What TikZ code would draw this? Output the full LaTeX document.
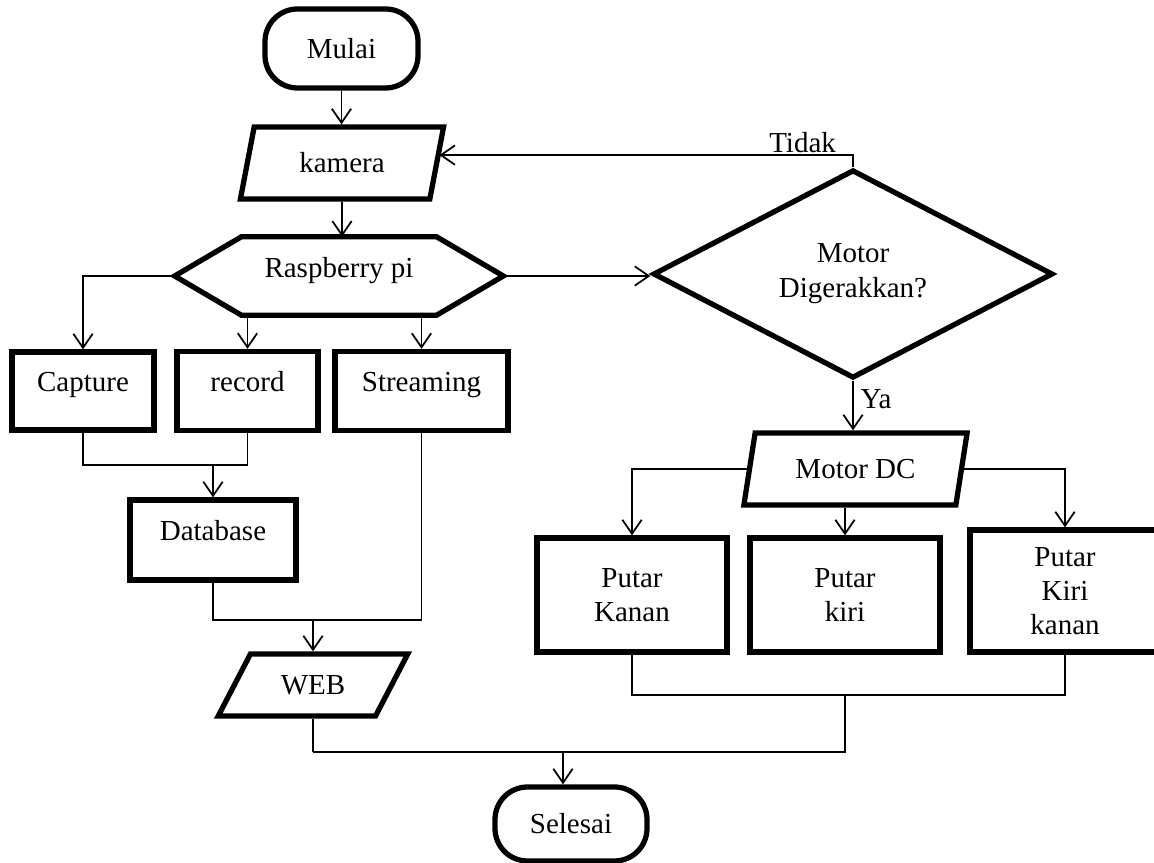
\documentclass[tikz,border=0pt]{standalone}
\usepackage{fontspec}
\setmainfont{Liberation Serif}
\usetikzlibrary{shapes.geometric,arrows.meta}

\begin{document}
\begin{tikzpicture}[
    font=\fontsize{16.5}{19.5}\selectfont,
    >={Straight Barb[length=8pt,width=11pt]},
    garis/.style={line width=1pt},
    terminal/.style={draw, line width=3pt, fill=white, rounded corners=0.65cm, minimum width=3.06cm, minimum height=1.58cm},
    proses/.style={draw, line width=3pt, fill=white, text height=11pt, text depth=10pt},
    putar/.style={draw, line width=3pt, fill=white, align=center, minimum width=3.8cm},
    data/.style={draw, trapezium, trapezium stretches=true, line width=3pt, fill=white}
  ]
  \useasboundingbox (0,0) rectangle (23.08,17.26);

  % kiri: alur kamera
  \node[terminal] (mulai) at (6.83,16.29) {Mulai};
  \node[data, trapezium left angle=76.7, trapezium right angle=103.3,
        minimum width=4.08cm, minimum height=1.44cm] (kamera) at (6.84,14.00) {kamera};
  \node[minimum width=6.56cm, minimum height=1.56cm, text height=11pt, text depth=9pt] (rpi) at (6.78,11.74) {Raspberry pi};
  \draw[line width=3pt] (rpi.west) -- ([xshift=1.34cm]rpi.north west) -- ([xshift=-1.34cm]rpi.north east)
    -- (rpi.east) -- ([xshift=-1.34cm]rpi.south east) -- ([xshift=1.34cm]rpi.south west) -- cycle;

  \node[proses, minimum width=2.84cm, minimum height=1.56cm] (capture) at (1.66,9.44) {Capture};
  \node[proses, minimum width=2.82cm, minimum height=1.58cm] (record) at (4.95,9.44) {record};
  \node[proses, minimum width=3.46cm, minimum height=1.58cm] (stream) at (8.43,9.44) {Streaming};
  \node[proses, minimum width=3.32cm, minimum height=1.60cm] (dbase) at (4.26,6.46) {Database};
  \node[data, trapezium left angle=57.8, trapezium right angle=122.2,
        minimum width=3.8cm, minimum height=1.24cm] (web) at (6.26,3.56) {WEB};
  \node[terminal, minimum width=3.04cm, minimum height=1.48cm] (selesai) at (11.42,0.78) {Selesai};

  % kanan: alur motor
  \node[draw, diamond, line width=3pt, fill=white, align=center, inner sep=0pt,
        minimum width=8cm, minimum height=4.16cm, font=\fontsize{16.5}{20}\selectfont] (putuskan) at (17.06,11.78) {Motor\\Digerakkan?};
  \node[data, trapezium left angle=76.7, trapezium right angle=103.3,
        minimum width=4.5cm, minimum height=1.44cm] (motordc) at (17.11,7.88) {Motor DC};
  \node[putar, minimum height=2.28cm] (kanan) at (12.64,5.36) {Putar\\Kanan};
  \node[putar, minimum height=2.28cm] (kiri) at (16.90,5.36) {Putar\\kiri};
  \node[putar, minimum height=2.44cm] (kirikanan) at (21.30,5.44) {Putar\\Kiri\\kanan};

  \draw[garis, ->] (mulai) -- (mulai |- kamera.north);
  \draw[garis, ->] (kamera) -- (kamera |- rpi.north);
  \draw[garis, ->] (rpi.west) -| (capture);
  \draw[garis, ->] (rpi.south -| record) -- (record);
  \draw[garis, ->] (rpi.south -| stream) -- (stream);
  \draw[garis, ->] (rpi.east) -- (rpi.east -| putuskan.west);

  \draw[garis, ->] (putuskan.north) -- ++(0,0.24) coordinate (tk) -- (tk -| kamera.east);
  \node[anchor=south east, inner sep=1pt] (tidak) at ([xshift=-0.3cm]tk) {Tidak};
  \draw[garis, ->] (putuskan.south) -- (putuskan.south |- motordc.north)
    node[pos=0.12, anchor=north west, inner sep=1pt, xshift=0.1cm] (ya) {Ya};

  \draw[garis] (capture.south) -- ++(0,-0.64) coordinate (gabung1) -| (record.south);
  \draw[garis, ->] (gabung1 -| dbase) -- (dbase);
  \draw[garis] (dbase.south) -- ++(0,-0.74) coordinate (gabung2) -| (stream.south);
  \draw[garis, ->] (gabung2 -| web) -- (web);

  \draw[garis, ->] (motordc.west) -| (kanan);
  \draw[garis, ->] (motordc.south -| kiri) -- (kiri);
  \draw[garis, ->] (motordc.east) -| (kirikanan);

  \draw[garis] (web.south) -- ++(0,-0.66) coordinate (gabung3);
  \draw[garis] (kanan.south) -- ++(0,-0.8) coordinate (gabung4) -| (kirikanan.south);
  \draw[garis] (gabung4 -| kiri) |- (gabung3);
  \draw[garis, ->] ([xshift=-0.16cm]selesai.north |- gabung3) -- ([xshift=-0.16cm]selesai.north);
\end{tikzpicture}
\end{document}
